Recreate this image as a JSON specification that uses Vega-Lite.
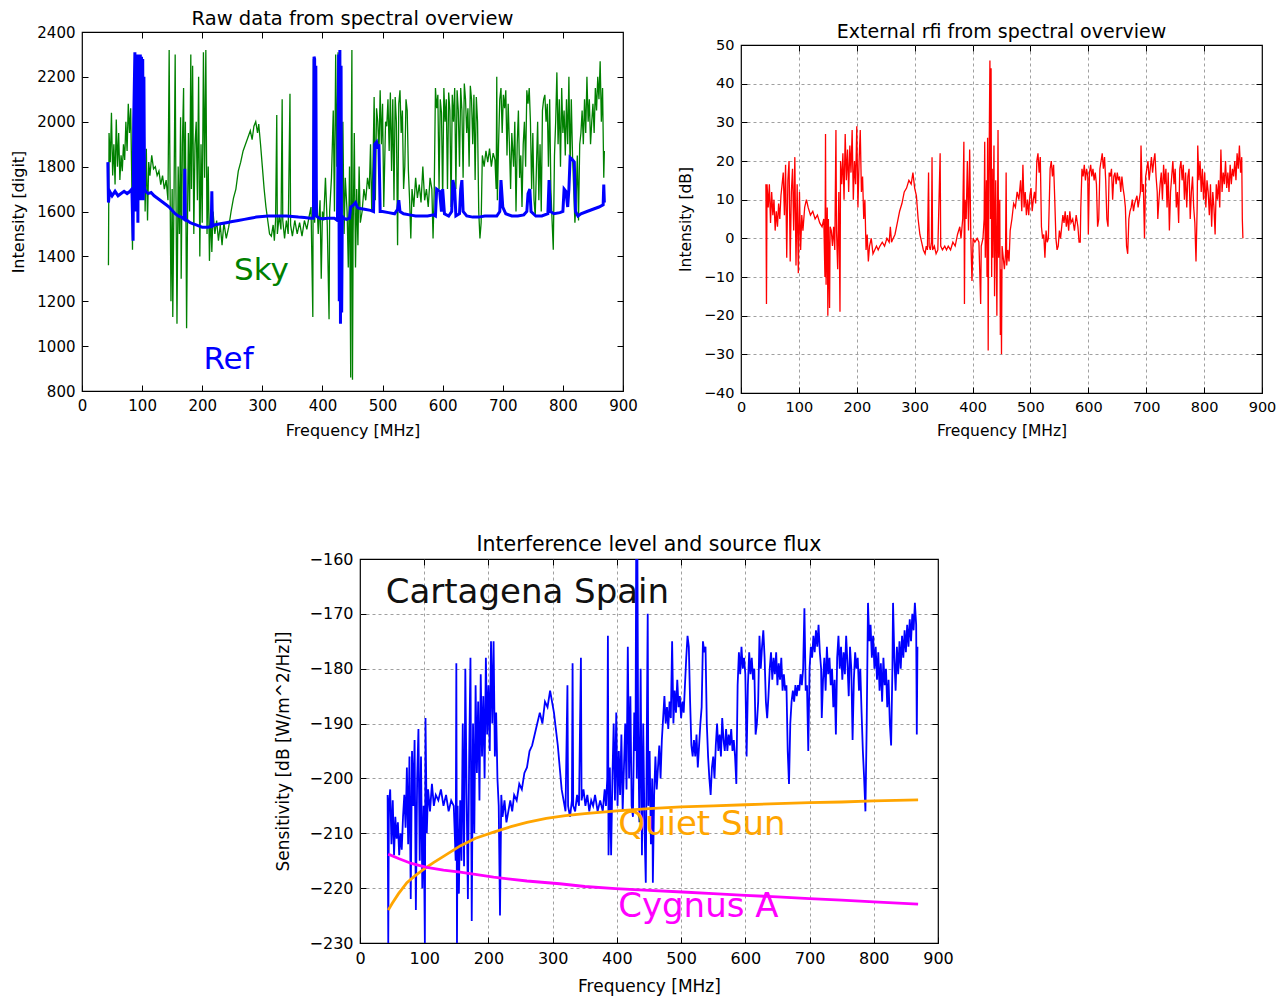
{
"$schema": "https://vega.github.io/schema/vega-lite/v6.json",
"background": "white",
"padding": {"left": 10, "top": 7, "right": 5, "bottom": 5},
"config": {
  "font": "DejaVu Sans",
  "view": {"stroke": null},
  "axis": {"labelColor": "black", "titleColor": "black", "titleFontWeight": "normal", "tickColor": "black", "domain": false, "tickSize": -6, "labelPadding": 13, "labelFlush": false, "labelOverlap": false, "gridColor": "#a0a0a0", "gridDash": [3, 3], "gridWidth": 1},
  "title": {"fontWeight": "normal", "color": "black", "anchor": "middle", "frame": "group"}
},
"datasets": {
  "sky": [{"f":44,"v":1360},{"f":45,"v":1950},{"f":47,"v":1820},{"f":49,"v":2040},{"f":51,"v":1760},{"f":53,"v":1900},{"f":55,"v":1720},{"f":57,"v":2010},{"f":59,"v":1800},{"f":61,"v":1950},{"f":63,"v":1740},{"f":65,"v":1850},{"f":67,"v":1780},{"f":69,"v":1900},{"f":71,"v":1830},{"f":73,"v":2000},{"f":75,"v":1870},{"f":77,"v":2080},{"f":79,"v":1950},{"f":81,"v":2060},{"f":83,"v":1700},{"f":84,"v":1430},{"f":85,"v":1900},{"f":87,"v":2100},{"f":89,"v":2200},{"f":91,"v":2150},{"f":93,"v":2250},{"f":95,"v":2190},{"f":97,"v":2100},{"f":99,"v":2210},{"f":101,"v":1900},{"f":103,"v":2150},{"f":105,"v":1600},{"f":107,"v":1880},{"f":109,"v":1560},{"f":111,"v":1820},{"f":113,"v":1760},{"f":116,"v":1850},{"f":119,"v":1790},{"f":122,"v":1800},{"f":125,"v":1760},{"f":128,"v":1780},{"f":131,"v":1720},{"f":134,"v":1760},{"f":137,"v":1700},{"f":140,"v":1740},{"f":143,"v":1650},{"f":145,"v":2320},{"f":146,"v":1900},{"f":148,"v":1200},{"f":150,"v":1700},{"f":151,"v":1130},{"f":153,"v":1650},{"f":155,"v":2300},{"f":156,"v":1800},{"f":158,"v":1100},{"f":160,"v":1800},{"f":162,"v":1500},{"f":164,"v":2020},{"f":165,"v":1300},{"f":167,"v":1900},{"f":169,"v":2150},{"f":170,"v":1600},{"f":172,"v":2000},{"f":174,"v":1080},{"f":176,"v":1700},{"f":177,"v":1950},{"f":179,"v":1600},{"f":181,"v":2300},{"f":182,"v":1700},{"f":184,"v":2250},{"f":186,"v":1500},{"f":188,"v":1900},{"f":190,"v":2000},{"f":192,"v":1650},{"f":194,"v":2200},{"f":196,"v":1400},{"f":198,"v":1900},{"f":200,"v":1550},{"f":202,"v":2310},{"f":204,"v":1750},{"f":206,"v":2320},{"f":208,"v":1500},{"f":210,"v":1800},{"f":212,"v":1380},{"f":214,"v":1600},{"f":216,"v":1420},{"f":218,"v":1600},{"f":221,"v":1500},{"f":224,"v":1560},{"f":227,"v":1470},{"f":230,"v":1540},{"f":233,"v":1450},{"f":236,"v":1550},{"f":240,"v":1480},{"f":244,"v":1530},{"f":248,"v":1600},{"f":252,"v":1660},{"f":256,"v":1700},{"f":260,"v":1780},{"f":264,"v":1820},{"f":268,"v":1870},{"f":272,"v":1900},{"f":276,"v":1930},{"f":280,"v":1960},{"f":283,"v":1920},{"f":286,"v":1980},{"f":289,"v":2000},{"f":292,"v":1950},{"f":294,"v":1990},{"f":297,"v":1900},{"f":300,"v":1800},{"f":303,"v":1700},{"f":306,"v":1620},{"f":309,"v":1560},{"f":312,"v":1500},{"f":315,"v":1490},{"f":318,"v":1540},{"f":320,"v":1470},{"f":322,"v":1560},{"f":324,"v":2030},{"f":325,"v":1500},{"f":328,"v":1580},{"f":331,"v":1520},{"f":333,"v":2100},{"f":334,"v":1560},{"f":337,"v":1480},{"f":340,"v":1560},{"f":343,"v":1500},{"f":346,"v":2125},{"f":347,"v":1540},{"f":350,"v":1490},{"f":354,"v":1560},{"f":358,"v":1500},{"f":362,"v":1550},{"f":366,"v":1490},{"f":370,"v":1560},{"f":374,"v":1520},{"f":378,"v":1580},{"f":381,"v":1620},{"f":384,"v":1130},{"f":385,"v":2280},{"f":387,"v":1550},{"f":390,"v":1700},{"f":393,"v":1500},{"f":396,"v":1650},{"f":398,"v":1300},{"f":400,"v":1600},{"f":402,"v":1560},{"f":405,"v":1750},{"f":408,"v":1540},{"f":411,"v":1120},{"f":412,"v":1600},{"f":415,"v":1750},{"f":418,"v":2050},{"f":420,"v":1600},{"f":422,"v":2300},{"f":424,"v":1800},{"f":426,"v":2310},{"f":428,"v":1700},{"f":430,"v":2200},{"f":432,"v":1600},{"f":434,"v":2000},{"f":436,"v":1500},{"f":438,"v":1750},{"f":441,"v":1600},{"f":443,"v":1350},{"f":445,"v":1800},{"f":447,"v":860},{"f":448,"v":1900},{"f":449,"v":2320},{"f":450,"v":850},{"f":451,"v":1500},{"f":453,"v":1950},{"f":455,"v":1350},{"f":457,"v":1700},{"f":459,"v":1450},{"f":461,"v":1800},{"f":463,"v":1550},{"f":466,"v":1600},{"f":469,"v":1700},{"f":472,"v":1650},{"f":475,"v":1750},{"f":478,"v":1700},{"f":480,"v":1900},{"f":482,"v":1600},{"f":484,"v":1800},{"f":486,"v":2110},{"f":488,"v":1650},{"f":490,"v":2060},{"f":492,"v":2000},{"f":494,"v":1860},{"f":496,"v":2140},{"f":498,"v":1900},{"f":500,"v":2080},{"f":502,"v":1620},{"f":505,"v":2000},{"f":507,"v":1980},{"f":509,"v":2100},{"f":511,"v":1870},{"f":513,"v":2130},{"f":515,"v":1780},{"f":517,"v":2100},{"f":519,"v":1650},{"f":521,"v":2110},{"f":523,"v":2000},{"f":525,"v":1450},{"f":527,"v":2080},{"f":529,"v":2140},{"f":531,"v":1950},{"f":533,"v":2050},{"f":535,"v":1700},{"f":537,"v":1800},{"f":539,"v":2100},{"f":541,"v":2050},{"f":543,"v":1780},{"f":545,"v":1650},{"f":547,"v":1480},{"f":549,"v":1700},{"f":552,"v":1620},{"f":555,"v":1750},{"f":558,"v":1660},{"f":561,"v":1720},{"f":564,"v":1640},{"f":567,"v":1800},{"f":570,"v":1650},{"f":573,"v":1700},{"f":576,"v":1620},{"f":579,"v":1750},{"f":582,"v":1700},{"f":584,"v":1480},{"f":586,"v":1700},{"f":588,"v":2150},{"f":590,"v":2060},{"f":592,"v":2120},{"f":594,"v":1700},{"f":596,"v":2100},{"f":598,"v":2040},{"f":600,"v":1650},{"f":602,"v":2150},{"f":604,"v":2000},{"f":606,"v":2100},{"f":608,"v":1700},{"f":610,"v":2130},{"f":612,"v":2050},{"f":614,"v":1620},{"f":616,"v":2120},{"f":618,"v":2000},{"f":620,"v":2150},{"f":622,"v":1700},{"f":624,"v":2140},{"f":626,"v":2050},{"f":628,"v":1800},{"f":630,"v":2150},{"f":632,"v":2050},{"f":634,"v":1750},{"f":636,"v":2170},{"f":638,"v":2100},{"f":640,"v":1950},{"f":642,"v":2060},{"f":644,"v":1800},{"f":646,"v":2160},{"f":648,"v":2100},{"f":650,"v":1900},{"f":652,"v":2120},{"f":654,"v":1740},{"f":656,"v":2110},{"f":658,"v":2000},{"f":660,"v":1600},{"f":662,"v":1480},{"f":664,"v":1550},{"f":666,"v":1850},{"f":669,"v":1800},{"f":672,"v":1870},{"f":675,"v":1820},{"f":678,"v":1880},{"f":681,"v":1800},{"f":684,"v":1860},{"f":687,"v":1830},{"f":689,"v":1700},{"f":690,"v":2200},{"f":691,"v":1650},{"f":693,"v":1900},{"f":695,"v":2100},{"f":697,"v":2150},{"f":699,"v":1950},{"f":701,"v":2120},{"f":703,"v":2060},{"f":705,"v":2140},{"f":707,"v":1850},{"f":709,"v":2080},{"f":711,"v":1900},{"f":713,"v":1700},{"f":715,"v":1950},{"f":718,"v":1800},{"f":720,"v":2000},{"f":722,"v":1600},{"f":724,"v":1900},{"f":726,"v":2050},{"f":728,"v":1750},{"f":730,"v":1850},{"f":732,"v":1620},{"f":734,"v":1900},{"f":736,"v":2000},{"f":738,"v":1800},{"f":740,"v":2140},{"f":742,"v":2080},{"f":744,"v":2150},{"f":746,"v":2000},{"f":748,"v":1700},{"f":750,"v":1950},{"f":752,"v":1650},{"f":754,"v":1580},{"f":756,"v":1800},{"f":758,"v":2000},{"f":760,"v":1650},{"f":762,"v":1900},{"f":764,"v":1600},{"f":766,"v":2050},{"f":768,"v":2100},{"f":770,"v":2120},{"f":772,"v":2000},{"f":774,"v":2080},{"f":776,"v":1800},{"f":778,"v":2100},{"f":780,"v":1700},{"f":782,"v":1560},{"f":784,"v":1430},{"f":786,"v":1850},{"f":788,"v":2000},{"f":790,"v":2220},{"f":792,"v":1900},{"f":794,"v":2100},{"f":796,"v":1800},{"f":798,"v":2150},{"f":800,"v":1950},{"f":802,"v":2050},{"f":804,"v":1850},{"f":806,"v":2100},{"f":808,"v":1900},{"f":810,"v":2200},{"f":812,"v":1800},{"f":814,"v":2100},{"f":816,"v":1850},{"f":818,"v":1700},{"f":820,"v":1550},{"f":822,"v":1650},{"f":824,"v":1850},{"f":826,"v":1560},{"f":828,"v":1900},{"f":830,"v":1950},{"f":832,"v":2050},{"f":834,"v":1900},{"f":836,"v":2100},{"f":838,"v":1950},{"f":840,"v":2200},{"f":842,"v":2000},{"f":844,"v":2100},{"f":846,"v":1900},{"f":848,"v":2000},{"f":850,"v":2080},{"f":852,"v":1950},{"f":854,"v":2150},{"f":856,"v":2050},{"f":858,"v":2200},{"f":860,"v":2100},{"f":862,"v":2270},{"f":864,"v":2000},{"f":866,"v":2150},{"f":868,"v":1750},{"f":869,"v":1870}],
  "ref": [{"f":43,"v":1820},{"f":44,"v":1640},{"f":46,"v":1690},{"f":50,"v":1670},{"f":55,"v":1690},{"f":60,"v":1670},{"f":65,"v":1680},{"f":70,"v":1690},{"f":75,"v":1680},{"f":80,"v":1690},{"f":83,"v":1700},{"f":85,"v":1470},{"f":86,"v":2000},{"f":88,"v":2310},{"f":89,"v":1600},{"f":90,"v":2300},{"f":91,"v":1700},{"f":92,"v":2300},{"f":93,"v":1550},{"f":94,"v":2280},{"f":96,"v":1750},{"f":97,"v":2300},{"f":98,"v":1650},{"f":99,"v":2290},{"f":100,"v":1700},{"f":101,"v":2280},{"f":102,"v":1650},{"f":103,"v":2200},{"f":104,"v":1700},{"f":106,"v":1690},{"f":110,"v":1680},{"f":115,"v":1685},{"f":120,"v":1670},{"f":125,"v":1660},{"f":130,"v":1650},{"f":135,"v":1640},{"f":140,"v":1630},{"f":145,"v":1620},{"f":150,"v":1605},{"f":155,"v":1590},{"f":160,"v":1580},{"f":165,"v":1575},{"f":170,"v":1565},{"f":171,"v":1790},{"f":172,"v":1565},{"f":175,"v":1560},{"f":180,"v":1550},{"f":185,"v":1545},{"f":190,"v":1540},{"f":195,"v":1535},{"f":200,"v":1530},{"f":205,"v":1530},{"f":210,"v":1530},{"f":215,"v":1535},{"f":216,"v":1690},{"f":217,"v":1535},{"f":220,"v":1540},{"f":230,"v":1545},{"f":240,"v":1550},{"f":250,"v":1555},{"f":260,"v":1560},{"f":270,"v":1565},{"f":280,"v":1570},{"f":290,"v":1575},{"f":300,"v":1578},{"f":310,"v":1580},{"f":320,"v":1580},{"f":330,"v":1580},{"f":340,"v":1580},{"f":350,"v":1578},{"f":360,"v":1575},{"f":370,"v":1573},{"f":380,"v":1570},{"f":385,"v":1570},{"f":386,"v":2290},{"f":387,"v":2280},{"f":388,"v":1575},{"f":389,"v":2250},{"f":390,"v":1580},{"f":392,"v":1575},{"f":395,"v":1570},{"f":400,"v":1568},{"f":410,"v":1570},{"f":420,"v":1570},{"f":425,"v":1560},{"f":427,"v":2300},{"f":428,"v":1200},{"f":429,"v":2320},{"f":430,"v":1100},{"f":431,"v":2250},{"f":432,"v":1150},{"f":433,"v":1580},{"f":435,"v":1570},{"f":440,"v":1565},{"f":445,"v":1570},{"f":447,"v":1620},{"f":450,"v":1625},{"f":455,"v":1640},{"f":458,"v":1620},{"f":460,"v":1615},{"f":470,"v":1610},{"f":480,"v":1605},{"f":485,"v":1600},{"f":487,"v":1900},{"f":490,"v":1910},{"f":492,"v":1880},{"f":494,"v":1900},{"f":496,"v":1600},{"f":500,"v":1600},{"f":510,"v":1595},{"f":520,"v":1590},{"f":525,"v":1610},{"f":527,"v":1650},{"f":529,"v":1600},{"f":535,"v":1590},{"f":545,"v":1585},{"f":555,"v":1580},{"f":565,"v":1580},{"f":575,"v":1580},{"f":585,"v":1585},{"f":588,"v":1580},{"f":590,"v":1700},{"f":595,"v":1690},{"f":598,"v":1600},{"f":600,"v":1700},{"f":603,"v":1590},{"f":610,"v":1580},{"f":615,"v":1600},{"f":617,"v":1740},{"f":620,"v":1700},{"f":622,"v":1580},{"f":628,"v":1590},{"f":630,"v":1700},{"f":632,"v":1740},{"f":634,"v":1600},{"f":640,"v":1580},{"f":650,"v":1575},{"f":660,"v":1575},{"f":670,"v":1580},{"f":680,"v":1580},{"f":690,"v":1580},{"f":695,"v":1600},{"f":697,"v":1740},{"f":700,"v":1620},{"f":705,"v":1590},{"f":715,"v":1580},{"f":725,"v":1580},{"f":735,"v":1585},{"f":740,"v":1600},{"f":742,"v":1680},{"f":745,"v":1700},{"f":747,"v":1600},{"f":755,"v":1580},{"f":765,"v":1580},{"f":775,"v":1590},{"f":777,"v":1740},{"f":779,"v":1600},{"f":785,"v":1590},{"f":795,"v":1595},{"f":800,"v":1600},{"f":802,"v":1700},{"f":805,"v":1690},{"f":808,"v":1620},{"f":810,"v":1700},{"f":812,"v":1840},{"f":816,"v":1830},{"f":819,"v":1820},{"f":821,"v":1600},{"f":825,"v":1580},{"f":830,"v":1590},{"f":840,"v":1600},{"f":850,"v":1610},{"f":860,"v":1620},{"f":867,"v":1630},{"f":868,"v":1720},{"f":869,"v":1640}],
  "rawlabels": [{"f":253,"v":1295,"t":"Sky"},{"f":202,"v":898,"t":"Ref"}],
  "rfi": [{"f":43,"v":14},{"f":44,"v":-17},{"f":45,"v":14},{"f":47,"v":8},{"f":49,"v":14},{"f":51,"v":4},{"f":53,"v":12},{"f":55,"v":6},{"f":57,"v":10},{"f":59,"v":2},{"f":61,"v":7},{"f":63,"v":3},{"f":65,"v":9},{"f":67,"v":5},{"f":69,"v":11},{"f":71,"v":14},{"f":73,"v":17},{"f":75,"v":6},{"f":77,"v":19},{"f":79,"v":-5},{"f":81,"v":15},{"f":83,"v":20},{"f":85,"v":-6},{"f":87,"v":12},{"f":89,"v":18},{"f":91,"v":2},{"f":93,"v":21},{"f":95,"v":-7},{"f":97,"v":14},{"f":99,"v":-9},{"f":101,"v":12},{"f":103,"v":-3},{"f":105,"v":6},{"f":107,"v":2},{"f":110,"v":8},{"f":113,"v":10},{"f":116,"v":8},{"f":120,"v":6},{"f":124,"v":7},{"f":128,"v":5},{"f":132,"v":6},{"f":136,"v":4},{"f":140,"v":3},{"f":143,"v":5},{"f":145,"v":-10},{"f":146,"v":27},{"f":147,"v":-12},{"f":149,"v":8},{"f":150,"v":-20},{"f":151,"v":5},{"f":153,"v":-18},{"f":154,"v":3},{"f":156,"v":2},{"f":158,"v":-2},{"f":160,"v":3},{"f":162,"v":-3},{"f":164,"v":28},{"f":165,"v":2},{"f":167,"v":-8},{"f":169,"v":12},{"f":171,"v":-19},{"f":172,"v":20},{"f":174,"v":14},{"f":176,"v":22},{"f":178,"v":10},{"f":180,"v":27},{"f":182,"v":15},{"f":184,"v":23},{"f":186,"v":12},{"f":188,"v":24},{"f":190,"v":17},{"f":192,"v":28},{"f":194,"v":10},{"f":196,"v":20},{"f":198,"v":14},{"f":200,"v":29},{"f":202,"v":8},{"f":204,"v":20},{"f":206,"v":28},{"f":208,"v":12},{"f":210,"v":16},{"f":212,"v":5},{"f":214,"v":10},{"f":216,"v":-3},{"f":218,"v":1},{"f":220,"v":-6},{"f":222,"v":-2},{"f":225,"v":0},{"f":228,"v":-4},{"f":231,"v":-3},{"f":234,"v":-2},{"f":237,"v":-3},{"f":240,"v":-2},{"f":244,"v":-1},{"f":248,"v":-2},{"f":252,"v":0},{"f":256,"v":-1},{"f":258,"v":3},{"f":260,"v":-1},{"f":263,"v":0},{"f":266,"v":1},{"f":270,"v":4},{"f":274,"v":7},{"f":278,"v":9},{"f":282,"v":12},{"f":286,"v":13},{"f":290,"v":15},{"f":294,"v":14},{"f":297,"v":17},{"f":300,"v":13},{"f":303,"v":11},{"f":306,"v":5},{"f":309,"v":1},{"f":312,"v":-1},{"f":315,"v":-3},{"f":318,"v":-4},{"f":320,"v":-2},{"f":322,"v":-3},{"f":324,"v":17},{"f":325,"v":-2},{"f":327,"v":-3},{"f":329,"v":-1},{"f":330,"v":21},{"f":331,"v":-3},{"f":334,"v":-2},{"f":337,"v":-4},{"f":340,"v":-3},{"f":344,"v":22},{"f":345,"v":-2},{"f":348,"v":-3},{"f":352,"v":-2},{"f":355,"v":-3},{"f":358,"v":-2},{"f":362,"v":-3},{"f":366,"v":-1},{"f":370,"v":-2},{"f":374,"v":1},{"f":378,"v":3},{"f":380,"v":0},{"f":383,"v":5},{"f":385,"v":25},{"f":386,"v":-17},{"f":387,"v":10},{"f":389,"v":5},{"f":391,"v":20},{"f":393,"v":2},{"f":395,"v":23},{"f":397,"v":0},{"f":399,"v":-11},{"f":401,"v":0},{"f":404,"v":-1},{"f":408,"v":0},{"f":411,"v":-1},{"f":414,"v":-17},{"f":415,"v":-2},{"f":418,"v":0},{"f":420,"v":5},{"f":421,"v":25},{"f":422,"v":-5},{"f":424,"v":15},{"f":425,"v":-10},{"f":426,"v":26},{"f":427,"v":-29},{"f":428,"v":10},{"f":430,"v":46},{"f":431,"v":5},{"f":432,"v":44},{"f":433,"v":-10},{"f":434,"v":18},{"f":435,"v":-5},{"f":437,"v":24},{"f":438,"v":-15},{"f":440,"v":15},{"f":442,"v":-20},{"f":444,"v":28},{"f":445,"v":-5},{"f":447,"v":10},{"f":448,"v":-25},{"f":449,"v":-8},{"f":450,"v":-30},{"f":451,"v":-2},{"f":453,"v":-5},{"f":455,"v":-8},{"f":457,"v":-4},{"f":458,"v":17},{"f":459,"v":-7},{"f":461,"v":-3},{"f":463,"v":-6},{"f":465,"v":2},{"f":468,"v":5},{"f":471,"v":9},{"f":474,"v":8},{"f":477,"v":12},{"f":480,"v":10},{"f":483,"v":15},{"f":485,"v":7},{"f":487,"v":19},{"f":489,"v":8},{"f":491,"v":12},{"f":493,"v":6},{"f":495,"v":10},{"f":497,"v":6},{"f":499,"v":11},{"f":501,"v":13},{"f":503,"v":7},{"f":505,"v":10},{"f":507,"v":12},{"f":509,"v":9},{"f":511,"v":20},{"f":513,"v":22},{"f":515,"v":17},{"f":517,"v":21},{"f":519,"v":3},{"f":521,"v":0},{"f":523,"v":1},{"f":525,"v":-5},{"f":527,"v":2},{"f":529,"v":-1},{"f":531,"v":0},{"f":534,"v":18},{"f":536,"v":20},{"f":538,"v":16},{"f":540,"v":19},{"f":542,"v":10},{"f":544,"v":0},{"f":546,"v":-3},{"f":548,"v":-2},{"f":550,"v":2},{"f":552,"v":0},{"f":554,"v":3},{"f":556,"v":6},{"f":558,"v":4},{"f":560,"v":7},{"f":562,"v":3},{"f":564,"v":6},{"f":566,"v":2},{"f":568,"v":7},{"f":570,"v":4},{"f":573,"v":5},{"f":576,"v":2},{"f":579,"v":6},{"f":582,"v":3},{"f":584,"v":-1},{"f":586,"v":-1},{"f":587,"v":8},{"f":589,"v":18},{"f":591,"v":16},{"f":593,"v":19},{"f":595,"v":15},{"f":597,"v":18},{"f":599,"v":16},{"f":600,"v":1},{"f":602,"v":17},{"f":604,"v":19},{"f":606,"v":16},{"f":608,"v":18},{"f":610,"v":15},{"f":612,"v":17},{"f":614,"v":14},{"f":616,"v":3},{"f":618,"v":5},{"f":620,"v":18},{"f":622,"v":20},{"f":624,"v":22},{"f":626,"v":18},{"f":628,"v":21},{"f":630,"v":15},{"f":632,"v":5},{"f":634,"v":3},{"f":636,"v":17},{"f":638,"v":16},{"f":640,"v":18},{"f":642,"v":10},{"f":644,"v":16},{"f":646,"v":17},{"f":648,"v":14},{"f":650,"v":17},{"f":652,"v":15},{"f":654,"v":16},{"f":656,"v":12},{"f":658,"v":16},{"f":660,"v":13},{"f":662,"v":11},{"f":664,"v":8},{"f":666,"v":-2},{"f":668,"v":-4},{"f":670,"v":5},{"f":672,"v":7},{"f":674,"v":8},{"f":676,"v":10},{"f":678,"v":7},{"f":680,"v":9},{"f":682,"v":10},{"f":684,"v":11},{"f":686,"v":8},{"f":688,"v":10},{"f":690,"v":12},{"f":691,"v":24},{"f":693,"v":12},{"f":695,"v":14},{"f":697,"v":0},{"f":699,"v":16},{"f":701,"v":18},{"f":703,"v":20},{"f":705,"v":15},{"f":707,"v":18},{"f":709,"v":21},{"f":711,"v":17},{"f":713,"v":20},{"f":715,"v":22},{"f":717,"v":16},{"f":719,"v":12},{"f":720,"v":5},{"f":722,"v":10},{"f":724,"v":14},{"f":726,"v":17},{"f":728,"v":10},{"f":730,"v":19},{"f":732,"v":14},{"f":734,"v":18},{"f":736,"v":8},{"f":738,"v":17},{"f":740,"v":2},{"f":742,"v":12},{"f":744,"v":16},{"f":746,"v":20},{"f":748,"v":14},{"f":750,"v":18},{"f":752,"v":8},{"f":754,"v":12},{"f":756,"v":4},{"f":758,"v":18},{"f":760,"v":20},{"f":762,"v":15},{"f":764,"v":19},{"f":766,"v":10},{"f":768,"v":17},{"f":770,"v":8},{"f":772,"v":16},{"f":774,"v":18},{"f":776,"v":5},{"f":778,"v":12},{"f":780,"v":16},{"f":782,"v":8},{"f":784,"v":4},{"f":786,"v":-6},{"f":788,"v":8},{"f":789,"v":24},{"f":791,"v":15},{"f":793,"v":20},{"f":795,"v":12},{"f":797,"v":18},{"f":799,"v":10},{"f":801,"v":17},{"f":803,"v":8},{"f":805,"v":15},{"f":807,"v":12},{"f":809,"v":6},{"f":811,"v":14},{"f":813,"v":3},{"f":815,"v":12},{"f":817,"v":8},{"f":819,"v":1},{"f":821,"v":14},{"f":823,"v":10},{"f":825,"v":15},{"f":827,"v":8},{"f":829,"v":23},{"f":831,"v":12},{"f":833,"v":17},{"f":835,"v":14},{"f":837,"v":20},{"f":839,"v":13},{"f":841,"v":17},{"f":843,"v":12},{"f":845,"v":19},{"f":847,"v":14},{"f":849,"v":18},{"f":851,"v":16},{"f":853,"v":20},{"f":855,"v":15},{"f":857,"v":22},{"f":859,"v":18},{"f":861,"v":24},{"f":863,"v":17},{"f":865,"v":21},{"f":866,"v":5},{"f":867,"v":0}],
  "sens": [{"f":43,"v":-203},{"f":44,"v":-230},{"f":45,"v":-205},{"f":47,"v":-202},{"f":49,"v":-212},{"f":51,"v":-204},{"f":53,"v":-214},{"f":55,"v":-207},{"f":57,"v":-211},{"f":59,"v":-208},{"f":61,"v":-214},{"f":63,"v":-210},{"f":65,"v":-213},{"f":67,"v":-207},{"f":69,"v":-203},{"f":71,"v":-209},{"f":73,"v":-198},{"f":75,"v":-212},{"f":77,"v":-196},{"f":79,"v":-222},{"f":81,"v":-195},{"f":83,"v":-205},{"f":85,"v":-193},{"f":87,"v":-224},{"f":89,"v":-200},{"f":91,"v":-191},{"f":93,"v":-215},{"f":95,"v":-196},{"f":97,"v":-220},{"f":99,"v":-205},{"f":101,"v":-230},{"f":102,"v":-189},{"f":104,"v":-210},{"f":106,"v":-202},{"f":109,"v":-206},{"f":112,"v":-201},{"f":115,"v":-205},{"f":118,"v":-203},{"f":122,"v":-204},{"f":126,"v":-202},{"f":130,"v":-205},{"f":134,"v":-203},{"f":138,"v":-206},{"f":142,"v":-204},{"f":146,"v":-205},{"f":149,"v":-215},{"f":150,"v":-179},{"f":151,"v":-230},{"f":152,"v":-205},{"f":154,"v":-221},{"f":156,"v":-204},{"f":158,"v":-215},{"f":160,"v":-190},{"f":162,"v":-216},{"f":164,"v":-180},{"f":166,"v":-203},{"f":168,"v":-222},{"f":170,"v":-196},{"f":172,"v":-178},{"f":174,"v":-226},{"f":176,"v":-190},{"f":178,"v":-210},{"f":180,"v":-183},{"f":182,"v":-199},{"f":184,"v":-186},{"f":186,"v":-204},{"f":188,"v":-181},{"f":190,"v":-196},{"f":192,"v":-185},{"f":194,"v":-200},{"f":196,"v":-178},{"f":198,"v":-192},{"f":200,"v":-183},{"f":202,"v":-195},{"f":204,"v":-175},{"f":206,"v":-190},{"f":208,"v":-175},{"f":210,"v":-196},{"f":212,"v":-188},{"f":214,"v":-200},{"f":216,"v":-205},{"f":218,"v":-225},{"f":220,"v":-203},{"f":222,"v":-207},{"f":225,"v":-204},{"f":228,"v":-208},{"f":231,"v":-206},{"f":234,"v":-204},{"f":237,"v":-206},{"f":240,"v":-203},{"f":244,"v":-204},{"f":248,"v":-201},{"f":252,"v":-202},{"f":256,"v":-199},{"f":260,"v":-198},{"f":264,"v":-195},{"f":268,"v":-194},{"f":272,"v":-192},{"f":276,"v":-190},{"f":280,"v":-188},{"f":284,"v":-190},{"f":288,"v":-186},{"f":292,"v":-187},{"f":296,"v":-184},{"f":299,"v":-186},{"f":302,"v":-188},{"f":305,"v":-191},{"f":308,"v":-194},{"f":311,"v":-198},{"f":314,"v":-202},{"f":317,"v":-204},{"f":320,"v":-206},{"f":323,"v":-183},{"f":324,"v":-205},{"f":327,"v":-207},{"f":330,"v":-204},{"f":331,"v":-179},{"f":332,"v":-205},{"f":335,"v":-206},{"f":338,"v":-203},{"f":341,"v":-205},{"f":344,"v":-178},{"f":345,"v":-204},{"f":348,"v":-202},{"f":351,"v":-205},{"f":354,"v":-203},{"f":357,"v":-206},{"f":360,"v":-204},{"f":363,"v":-205},{"f":366,"v":-203},{"f":370,"v":-206},{"f":374,"v":-204},{"f":378,"v":-206},{"f":381,"v":-202},{"f":383,"v":-205},{"f":385,"v":-200},{"f":386,"v":-174},{"f":387,"v":-214},{"f":389,"v":-198},{"f":391,"v":-214},{"f":393,"v":-200},{"f":395,"v":-190},{"f":397,"v":-204},{"f":399,"v":-188},{"f":401,"v":-205},{"f":403,"v":-195},{"f":405,"v":-203},{"f":407,"v":-192},{"f":409,"v":-206},{"f":411,"v":-198},{"f":413,"v":-190},{"f":415,"v":-202},{"f":417,"v":-176},{"f":419,"v":-200},{"f":421,"v":-185},{"f":423,"v":-205},{"f":425,"v":-207},{"f":427,"v":-188},{"f":429,"v":-195},{"f":430,"v":-160},{"f":431,"v":-200},{"f":432,"v":-160},{"f":433,"v":-190},{"f":435,"v":-208},{"f":437,"v":-180},{"f":439,"v":-214},{"f":441,"v":-190},{"f":443,"v":-209},{"f":445,"v":-219},{"f":447,"v":-185},{"f":448,"v":-170},{"f":449,"v":-205},{"f":451,"v":-195},{"f":453,"v":-212},{"f":455,"v":-200},{"f":456,"v":-219},{"f":458,"v":-203},{"f":460,"v":-196},{"f":462,"v":-202},{"f":464,"v":-198},{"f":466,"v":-194},{"f":468,"v":-200},{"f":470,"v":-193},{"f":472,"v":-189},{"f":474,"v":-185},{"f":476,"v":-190},{"f":478,"v":-187},{"f":480,"v":-191},{"f":482,"v":-186},{"f":484,"v":-189},{"f":486,"v":-175},{"f":488,"v":-190},{"f":490,"v":-184},{"f":492,"v":-188},{"f":494,"v":-182},{"f":496,"v":-187},{"f":498,"v":-185},{"f":500,"v":-189},{"f":502,"v":-186},{"f":504,"v":-188},{"f":506,"v":-183},{"f":508,"v":-178},{"f":510,"v":-174},{"f":512,"v":-176},{"f":514,"v":-186},{"f":516,"v":-194},{"f":518,"v":-196},{"f":520,"v":-193},{"f":522,"v":-196},{"f":524,"v":-192},{"f":526,"v":-198},{"f":528,"v":-194},{"f":530,"v":-190},{"f":532,"v":-187},{"f":534,"v":-175},{"f":536,"v":-177},{"f":538,"v":-176},{"f":540,"v":-190},{"f":542,"v":-196},{"f":544,"v":-200},{"f":546,"v":-203},{"f":548,"v":-198},{"f":550,"v":-196},{"f":552,"v":-200},{"f":554,"v":-194},{"f":556,"v":-190},{"f":558,"v":-195},{"f":560,"v":-192},{"f":562,"v":-196},{"f":564,"v":-189},{"f":566,"v":-193},{"f":568,"v":-195},{"f":570,"v":-191},{"f":572,"v":-195},{"f":574,"v":-192},{"f":576,"v":-194},{"f":578,"v":-191},{"f":580,"v":-195},{"f":582,"v":-193},{"f":584,"v":-196},{"f":586,"v":-201},{"f":588,"v":-183},{"f":590,"v":-177},{"f":592,"v":-181},{"f":594,"v":-176},{"f":596,"v":-180},{"f":598,"v":-178},{"f":600,"v":-181},{"f":602,"v":-196},{"f":604,"v":-183},{"f":606,"v":-177},{"f":608,"v":-181},{"f":610,"v":-178},{"f":612,"v":-182},{"f":614,"v":-180},{"f":616,"v":-192},{"f":618,"v":-190},{"f":620,"v":-186},{"f":622,"v":-174},{"f":624,"v":-180},{"f":626,"v":-176},{"f":628,"v":-173},{"f":630,"v":-178},{"f":632,"v":-186},{"f":634,"v":-189},{"f":636,"v":-185},{"f":638,"v":-180},{"f":640,"v":-177},{"f":642,"v":-182},{"f":644,"v":-178},{"f":646,"v":-181},{"f":648,"v":-177},{"f":650,"v":-183},{"f":652,"v":-179},{"f":654,"v":-182},{"f":656,"v":-178},{"f":658,"v":-184},{"f":660,"v":-181},{"f":662,"v":-184},{"f":664,"v":-183},{"f":666,"v":-195},{"f":668,"v":-201},{"f":670,"v":-190},{"f":672,"v":-186},{"f":674,"v":-184},{"f":676,"v":-186},{"f":678,"v":-183},{"f":680,"v":-185},{"f":682,"v":-183},{"f":684,"v":-184},{"f":686,"v":-181},{"f":688,"v":-183},{"f":690,"v":-180},{"f":692,"v":-169},{"f":694,"v":-184},{"f":696,"v":-183},{"f":698,"v":-195},{"f":700,"v":-180},{"f":702,"v":-176},{"f":704,"v":-178},{"f":706,"v":-174},{"f":708,"v":-177},{"f":710,"v":-173},{"f":712,"v":-176},{"f":714,"v":-172},{"f":716,"v":-177},{"f":718,"v":-180},{"f":719,"v":-189},{"f":721,"v":-182},{"f":723,"v":-178},{"f":725,"v":-184},{"f":727,"v":-176},{"f":729,"v":-181},{"f":731,"v":-178},{"f":733,"v":-183},{"f":735,"v":-180},{"f":737,"v":-187},{"f":739,"v":-182},{"f":741,"v":-192},{"f":743,"v":-178},{"f":745,"v":-174},{"f":747,"v":-180},{"f":749,"v":-176},{"f":751,"v":-182},{"f":753,"v":-177},{"f":755,"v":-181},{"f":757,"v":-174},{"f":759,"v":-179},{"f":761,"v":-185},{"f":763,"v":-176},{"f":765,"v":-180},{"f":767,"v":-193},{"f":769,"v":-182},{"f":771,"v":-177},{"f":773,"v":-180},{"f":775,"v":-178},{"f":777,"v":-184},{"f":779,"v":-180},{"f":781,"v":-188},{"f":783,"v":-195},{"f":785,"v":-200},{"f":787,"v":-206},{"f":789,"v":-190},{"f":791,"v":-168},{"f":793,"v":-175},{"f":795,"v":-172},{"f":797,"v":-178},{"f":799,"v":-174},{"f":801,"v":-180},{"f":803,"v":-176},{"f":805,"v":-182},{"f":807,"v":-177},{"f":809,"v":-184},{"f":811,"v":-179},{"f":813,"v":-186},{"f":815,"v":-178},{"f":817,"v":-183},{"f":819,"v":-180},{"f":821,"v":-187},{"f":823,"v":-182},{"f":825,"v":-190},{"f":827,"v":-194},{"f":829,"v":-180},{"f":830,"v":-168},{"f":832,"v":-178},{"f":834,"v":-184},{"f":836,"v":-176},{"f":838,"v":-181},{"f":840,"v":-175},{"f":842,"v":-180},{"f":844,"v":-174},{"f":846,"v":-178},{"f":848,"v":-173},{"f":850,"v":-177},{"f":852,"v":-172},{"f":854,"v":-176},{"f":856,"v":-171},{"f":858,"v":-175},{"f":860,"v":-170},{"f":862,"v":-173},{"f":864,"v":-168},{"f":866,"v":-172},{"f":867,"v":-192},{"f":868,"v":-176}],
  "sun": [{"f":44,"v":-224},{"f":50,"v":-222.8},{"f":60,"v":-221},{"f":73,"v":-219},{"f":85,"v":-217.8},{"f":100,"v":-216.5},{"f":115,"v":-215.3},{"f":130,"v":-214.2},{"f":156,"v":-212.3},{"f":180,"v":-210.9},{"f":208,"v":-209.8},{"f":235,"v":-208.8},{"f":260,"v":-208},{"f":290,"v":-207.3},{"f":320,"v":-206.8},{"f":350,"v":-206.4},{"f":400,"v":-205.9},{"f":450,"v":-205.5},{"f":500,"v":-205.2},{"f":550,"v":-205},{"f":600,"v":-204.8},{"f":650,"v":-204.6},{"f":700,"v":-204.4},{"f":750,"v":-204.3},{"f":800,"v":-204.1},{"f":869,"v":-203.9}],
  "cyg": [{"f":44,"v":-213.8},{"f":60,"v":-214.6},{"f":80,"v":-215.5},{"f":104,"v":-216.2},{"f":130,"v":-216.7},{"f":156,"v":-217.1},{"f":208,"v":-218},{"f":260,"v":-218.7},{"f":311,"v":-219.2},{"f":350,"v":-219.7},{"f":398,"v":-220.1},{"f":450,"v":-220.4},{"f":502,"v":-220.7},{"f":550,"v":-221},{"f":600,"v":-221.3},{"f":650,"v":-221.6},{"f":700,"v":-221.9},{"f":750,"v":-222.2},{"f":800,"v":-222.5},{"f":869,"v":-222.9}],
  "senslabels": [{"f":40,"v":-168.1,"t":"Cartagena Spain"},{"f":402,"v":-210.4,"t":"Quiet Sun"},{"f":402,"v":-225.3,"t":"Cygnus A"}]
},
"spacing": 93,
"vconcat": [
  {
    "bounds": "flush",
    "spacing": 118,
    "hconcat": [
      {
        "width": 541, "height": 359,
        "view": {"stroke": "black", "strokeWidth": 1.2},
        "title": {"text": "Raw data from spectral overview", "fontSize": 19.5, "offset": -4},
        "resolve": {"axis": {"x": "independent", "y": "independent"}},
        "layer": [
          {"data": {"name": "sky"}, "mark": {"type": "line", "color": "#008000", "strokeWidth": 1.3, "clip": true},
           "encoding": {
             "x": {"field": "f", "type": "quantitative", "scale": {"domain": [0, 900], "nice": false, "zero": false},
                   "axis": {"title": "Frequency [MHz]", "grid": false, "values": [0,100,200,300,400,500,600,700,800,900], "format": "d", "labelFontSize": 15, "titleFontSize": 16, "titlePadding": 9}},
             "y": {"field": "v", "type": "quantitative", "scale": {"domain": [800, 2400], "nice": false, "zero": false},
                   "axis": {"title": "Intensity [digit]", "grid": false, "values": [800,1000,1200,1400,1600,1800,2000,2200,2400], "format": "d", "labelFontSize": 15, "titleFontSize": 16, "titlePadding": 10}}
           }},
          {"data": {"name": "ref"}, "mark": {"type": "line", "color": "#0000ff", "strokeWidth": 3, "clip": true},
           "encoding": {
             "x": {"field": "f", "type": "quantitative", "axis": {"orient": "top", "labels": false, "title": null, "grid": false, "values": [100,200,300,400,500,600,700,800]}},
             "y": {"field": "v", "type": "quantitative", "axis": {"orient": "right", "labels": false, "title": null, "grid": false, "values": [1000,1200,1400,1600,1800,2000,2200]}}}},
          {"data": {"name": "rawlabels"}, "transform": [{"filter": "datum.t == 'Sky'"}],
           "mark": {"type": "text", "align": "left", "baseline": "alphabetic", "fontSize": 31, "color": "#008000"},
           "encoding": {"x": {"field": "f", "type": "quantitative", "axis": null}, "y": {"field": "v", "type": "quantitative", "axis": null}, "text": {"field": "t"}}},
          {"data": {"name": "rawlabels"}, "transform": [{"filter": "datum.t == 'Ref'"}],
           "mark": {"type": "text", "align": "left", "baseline": "alphabetic", "fontSize": 31, "color": "#0000ff"},
           "encoding": {"x": {"field": "f", "type": "quantitative", "axis": null}, "y": {"field": "v", "type": "quantitative", "axis": null}, "text": {"field": "t"}}}
        ]
      },
      {
        "bounds": "flush",
        "spacing": 0,
        "vconcat": [
          {"width": 10, "height": 13, "data": {"values": []}, "mark": "point"},
          {
            "width": 521, "height": 348,
            "view": {"stroke": "black", "strokeWidth": 1.2},
            "title": {"text": "External rfi from spectral overview", "fontSize": 19, "offset": -5},
            "resolve": {"axis": {"x": "independent", "y": "independent"}},
            "layer": [
              {"data": {"name": "rfi"},
               "mark": {"type": "line", "color": "#ff0000", "strokeWidth": 1.3, "clip": true},
               "encoding": {
                 "x": {"field": "f", "type": "quantitative", "scale": {"domain": [0, 900], "nice": false, "zero": false},
                       "axis": {"title": "Frequency [MHz]", "grid": true, "gridOpacity": {"condition": {"test": "datum.value == 0 || datum.value == 900", "value": 0}, "value": 1}, "values": [0,100,200,300,400,500,600,700,800,900], "format": "d", "labelFontSize": 14.5, "titleFontSize": 15.5, "titlePadding": 10}},
                 "y": {"field": "v", "type": "quantitative", "scale": {"domain": [-40, 50], "nice": false, "zero": false},
                       "axis": {"title": "Intensity [dB]", "grid": true, "gridOpacity": {"condition": {"test": "datum.value == -40 || datum.value == 50", "value": 0}, "value": 1}, "values": [-40,-30,-20,-10,0,10,20,30,40,50], "format": "d", "labelFontSize": 14.5, "titleFontSize": 15.5, "titlePadding": 10}}
               }},
              {"data": {"name": "rfi"},
               "mark": {"type": "line", "opacity": 0},
               "encoding": {
                 "x": {"field": "f", "type": "quantitative", "axis": {"orient": "top", "labels": false, "title": null, "grid": false, "values": [100,200,300,400,500,600,700,800]}},
                 "y": {"field": "v", "type": "quantitative", "axis": {"orient": "right", "labels": false, "title": null, "grid": false, "values": [-30,-20,-10,0,10,20,30,40]}}
               }}
            ]
          }
        ]
      }
    ]
  },
  {
    "bounds": "flush",
    "spacing": 20,
    "hconcat": [
      {"width": 258, "height": 10, "data": {"values": []}, "mark": "point"},
      {
        "width": 578, "height": 384,
        "view": {"stroke": "black", "strokeWidth": 1.2},
        "title": {"text": "Interference level and source flux", "fontSize": 20.5, "offset": -4},
        "resolve": {"axis": {"x": "independent", "y": "independent"}},
        "layer": [
          {"data": {"name": "sens"}, "mark": {"type": "line", "color": "#0000ff", "strokeWidth": 1.8, "clip": true},
           "encoding": {
             "x": {"field": "f", "type": "quantitative", "scale": {"domain": [0, 900], "nice": false, "zero": false},
                   "axis": {"title": "Frequency [MHz]", "grid": true, "gridOpacity": {"condition": {"test": "datum.value == 0 || datum.value == 900", "value": 0}, "value": 1}, "values": [0,100,200,300,400,500,600,700,800,900], "format": "d", "labelFontSize": 16, "titleFontSize": 17, "titlePadding": 12}},
             "y": {"field": "v", "type": "quantitative", "scale": {"domain": [-230, -160], "nice": false, "zero": false},
                   "axis": {"title": "Sensitivity [dB [W/m^2/Hz]]", "grid": true, "gridOpacity": {"condition": {"test": "datum.value == -230 || datum.value == -160", "value": 0}, "value": 1}, "values": [-230,-220,-210,-200,-190,-180,-170,-160], "format": "d", "labelFontSize": 16, "titleFontSize": 17, "titlePadding": 17}}
           }},
          {"data": {"name": "sun"}, "mark": {"type": "line", "color": "#ffa500", "strokeWidth": 2.8, "clip": true},
           "encoding": {
             "x": {"field": "f", "type": "quantitative", "axis": {"orient": "top", "labels": false, "title": null, "grid": false, "values": [100,200,300,400,500,600,700,800]}},
             "y": {"field": "v", "type": "quantitative", "axis": {"orient": "right", "labels": false, "title": null, "grid": false, "values": [-220,-210,-200,-190,-180,-170]}}}},
          {"data": {"name": "cyg"}, "mark": {"type": "line", "color": "#ff00ff", "strokeWidth": 2.8, "clip": true},
           "encoding": {"x": {"field": "f", "type": "quantitative", "axis": null}, "y": {"field": "v", "type": "quantitative", "axis": null}}},
          {"data": {"name": "senslabels"}, "transform": [{"filter": "datum.t == 'Cartagena Spain'"}],
           "mark": {"type": "text", "align": "left", "baseline": "alphabetic", "fontSize": 34, "color": "#111111"},
           "encoding": {"x": {"field": "f", "type": "quantitative", "axis": null}, "y": {"field": "v", "type": "quantitative", "axis": null}, "text": {"field": "t"}}},
          {"data": {"name": "senslabels"}, "transform": [{"filter": "datum.t == 'Quiet Sun'"}],
           "mark": {"type": "text", "align": "left", "baseline": "alphabetic", "fontSize": 34, "color": "#ffa500"},
           "encoding": {"x": {"field": "f", "type": "quantitative", "axis": null}, "y": {"field": "v", "type": "quantitative", "axis": null}, "text": {"field": "t"}}},
          {"data": {"name": "senslabels"}, "transform": [{"filter": "datum.t == 'Cygnus A'"}],
           "mark": {"type": "text", "align": "left", "baseline": "alphabetic", "fontSize": 34, "color": "#ff00ff"},
           "encoding": {"x": {"field": "f", "type": "quantitative", "axis": null}, "y": {"field": "v", "type": "quantitative", "axis": null}, "text": {"field": "t"}}}
        ]
      }
    ]
  }
]
}
